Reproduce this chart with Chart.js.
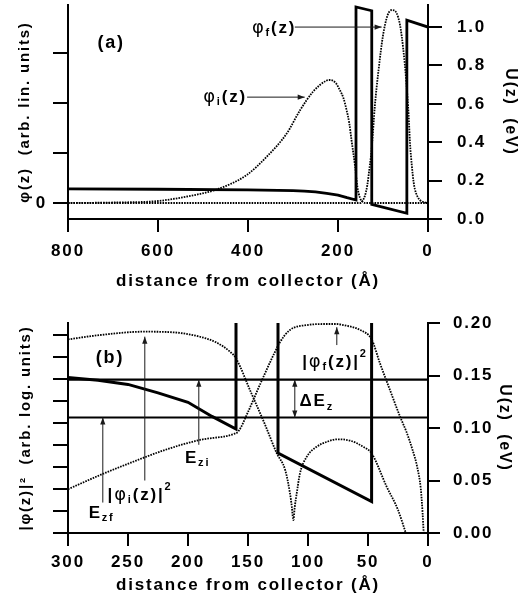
<!DOCTYPE html>
<html>
<head>
<meta charset="utf-8">
<script src="https://cdn.jsdelivr.net/npm/chart.js@4.4.1/dist/chart.umd.min.js"></script>
<style>
  body { margin: 0; background: #fff; }
  #wrapA { position: absolute; left: 0; top: 0; width: 525px; height: 292px; }
  #wrapB { position: absolute; left: 0; top: 292px; width: 525px; height: 304px; }
</style>
</head>
<body>
<div id="wrapA"><canvas id="canvasA"></canvas></div>
<div id="wrapB"><canvas id="canvasB"></canvas></div>
<script>
// ---- panel (a) : linear wavefunctions ----
const xTicksA = [800, 600, 400, 200, 0];
const phiTicksA = [0, 1, 2, 3];
const phiTickLabelsA = ["0", "", "", ""];
const uTicksA = [0, 0.2, 0.4, 0.6, 0.8, 1.0];

// conduction band profile U(z), eV (shared by both panels)
const zU = [800, 600, 400, 300, 275, 250, 225, 200, 180, 160, 160, 125, 125, 47, 47, 0];
const uU = [0.157, 0.155, 0.152, 0.148, 0.1455, 0.1415, 0.1335, 0.1245, 0.111, 0.099, 1.105, 1.085, 0.076, 0.030, 1.036, 1.0];

const zPhiI = [800, 700, 600, 536, 470, 403, 358, 314, 284, 255, 225, 218, 205, 196, 188, 181, 175, 170, 162, 157, 151, 145, 140, 0];
const phiI = [0, 0.01, 0.04, 0.13, 0.27, 0.56, 0.93, 1.39, 1.86, 2.23, 2.45, 2.46, 2.4, 2.26, 2.1, 1.86, 1.6, 1.26, 0.73, 0.33, 0.1, 0.02, 0, 0];

const zPhiF = [800, 150, 145, 140, 135, 130, 125, 118, 110, 100, 90, 80, 70, 62, 55, 48, 43, 40, 36, 32, 29, 24, 18, 10, 0];
const phiF = [0, 0, 0.05, 0.15, 0.35, 0.7, 1.1, 1.95, 2.65, 3.35, 3.75, 3.86, 3.8, 3.55, 3.08, 2.4, 1.75, 1.2, 0.75, 0.42, 0.27, 0.14, 0.06, 0.02, 0];

// ---- panel (b) : log |phi|^2 ----
const xTicksB = [300, 250, 200, 150, 100, 50, 0];
const logTicksB = [0, 1, 2, 3, 4, 5, 6, 7, 8, 9];
const uTicksB = [0, 0.05, 0.10, 0.15, 0.20];

const zSqI = [300, 273, 237, 212, 190, 176, 165, 160, 148, 136, 126, 119, 115, 113.5, 112.2, 111, 109.4, 106.7, 101, 92.8, 84, 76, 65, 54, 47, 34.4, 25, 18.5];
const sqI = [8.8, 9.0, 9.15, 9.12, 8.92, 8.65, 8.24, 7.94, 6.45, 4.95, 3.62, 2.86, 1.8, 1.2, 0.59, 1.2, 1.8, 2.71, 3.47, 3.92, 4.15, 4.26, 4.2, 3.92, 3.62, 2.1, 1.05, 0];

const zSqF = [300, 273, 245.6, 217.8, 190, 162, 158, 150, 140, 130, 126, 124, 115, 101, 84, 76, 70.6, 56.7, 47, 40, 31.7, 23.3, 18, 13, 9, 6, 4.5, 3.6];
const sqF = [1.99, 2.64, 3.24, 3.8, 4.23, 4.5, 4.62, 5.5, 6.75, 7.95, 8.4, 8.62, 9.23, 9.45, 9.5, 9.5, 9.45, 9.23, 8.8, 7.71, 6.5, 5.29, 4.6, 3.8, 3.0, 2.0, 0.9, 0];

const zE = [300, 0];
const eZi = [0.146, 0.146];
const eZf = [0.110, 0.110];

const pts = (xs, ys) => xs.map((x, i) => ({ x: x, y: ys[i] }));

const tickFont = { family: '"Liberation Sans", Arial, sans-serif', size: 17, weight: "bold" };
const B = 'bold 17px "Liberation Sans", Arial, sans-serif';
const B18 = 'bold 18px "Liberation Sans", Arial, sans-serif';
const G = '18px "DejaVu Sans", sans-serif';
const S = 'bold 11px "Liberation Sans", Arial, sans-serif';
const dotColor = "#000";

function drawRich(ctx, parts, x, y, align) {
  let w = 0;
  parts.forEach((p) => { ctx.font = p[1]; w += ctx.measureText(p[0]).width; });
  let cx = align === "left" ? x : x - w / 2;
  parts.forEach((p) => {
    ctx.font = p[1];
    ctx.fillText(p[0], cx, y + (p[2] || 0));
    cx += ctx.measureText(p[0]).width;
  });
}

function head(ctx, x, y, dir) {
  // dir: unit vector pointing where the tip faces
  const L = 7, W = 2.6;
  ctx.beginPath();
  ctx.moveTo(x, y);
  ctx.lineTo(x - dir[0] * L - dir[1] * W, y - dir[1] * L + dir[0] * W);
  ctx.lineTo(x - dir[0] * L + dir[1] * W, y - dir[1] * L - dir[0] * W);
  ctx.closePath();
  ctx.fill();
}

function drawArrow(ctx, x1, y1, x2, y2, both) {
  ctx.beginPath();
  ctx.moveTo(x1, y1);
  ctx.lineTo(x2, y2);
  ctx.stroke();
  const len = Math.hypot(x2 - x1, y2 - y1);
  const d = [(x2 - x1) / len, (y2 - y1) / len];
  head(ctx, x2, y2, d);
  if (both) head(ctx, x1, y1, [-d[0], -d[1]]);
}

const notesPlugin = {
  id: "notes",
  beforeDraw(chart) {
    chart.ctx.letterSpacing = "1.8px";
  },
  afterDatasetsDraw(chart, args, opts) {
    const ctx = chart.ctx;
    const xs = chart.scales.x;
    const ys = chart.scales.yU;
    ctx.save();
    ctx.letterSpacing = "1.8px";
    ctx.fillStyle = "#000";
    ctx.strokeStyle = "#1a1a1a";
    ctx.lineWidth = 1;
    ctx.textBaseline = "middle";
    (opts.labels || []).forEach((l) => {
      drawRich(ctx, l.parts, xs.getPixelForValue(l.z), ys.getPixelForValue(l.u), l.align);
    });
    ctx.fillStyle = "#1a1a1a";
    (opts.arrows || []).forEach((a) => {
      drawArrow(ctx, xs.getPixelForValue(a.z1), ys.getPixelForValue(a.u1),
        xs.getPixelForValue(a.z2), ys.getPixelForValue(a.u2), a.both);
    });
    ctx.restore();
  },
};

const axisGrid = (len) => ({ drawOnChartArea: false, color: "#000", lineWidth: 2, tickLength: len });
const axisBorder = { color: "#000", width: 2 };

// fixed box sizes, and no extra room reserved for overflowing end labels
const fixWidth = (w) => (s) => { s.width = w; s.paddingTop = 0; s.paddingBottom = 0; };
const fixHeight = (h) => (s) => { s.height = h; s.paddingLeft = 0; s.paddingRight = 0; };

function dotted(data, axis) {
  return {
    data: data, yAxisID: axis, borderColor: dotColor, borderWidth: 1.8,
    borderDash: [1.6, 1.1], cubicInterpolationMode: "monotone", pointRadius: 0,
  };
}
function solid(data, width) {
  return {
    data: data, yAxisID: "yU", borderColor: "#000", borderWidth: width,
    tension: 0, pointRadius: 0, borderJoinStyle: "miter",
  };
}

const chartA = new Chart(document.getElementById("canvasA"), {
  type: "line",
  data: {
    datasets: [
      dotted(pts(zPhiI, phiI), "yPhi"),
      dotted(pts(zPhiF, phiF), "yPhi"),
      solid(pts(zU, uU), 2.8),
    ],
  },
  options: {
    responsive: true,
    maintainAspectRatio: false,
    animation: false,
    layout: { padding: { top: 5, left: 0, right: 0, bottom: 0 } },
    plugins: {
      legend: { display: false },
      tooltip: { enabled: false },
      notes: {
        labels: [
          { z: 704, u: 0.917, parts: [["(a)", B18]] },
          { z: 342, u: 0.995, parts: [["φ", G], ["f", S, 5], ["(z)", B]] },
          { z: 451, u: 0.635, parts: [["φ", G], ["i", S, 5], ["(z)", B]] },
        ],
        arrows: [
          { z1: 296, u1: 1.0, z2: 103, u2: 1.0 },
          { z1: 402, u1: 0.635, z2: 274, u2: 0.635 },
        ],
      },
    },
    scales: {
      x: {
        type: "linear", reverse: true, min: 0, max: 800,
        afterBuildTicks: (s) => { s.ticks = xTicksA.map((v) => ({ value: v })); },
        afterFit: fixHeight(73),
        grid: axisGrid(13), border: axisBorder,
        ticks: { color: "#000", font: tickFont, padding: 9, maxRotation: 0, autoSkip: false },
        title: { display: true, text: "distance from collector (Å)", color: "#000", font: tickFont, padding: { top: 0, bottom: 0 } },
      },
      yPhi: {
        type: "linear", position: "left", min: -0.32, max: 3.96,
        afterBuildTicks: (s) => { s.ticks = phiTicksA.map((v) => ({ value: v })); },
        afterFit: fixWidth(68),
        grid: axisGrid(15), border: axisBorder,
        ticks: { color: "#000", font: tickFont, padding: 6, autoSkip: false, callback: (v, i) => phiTickLabelsA[i] },
        title: { display: true, text: "φ(z)  (arb. lin. units)", color: "#000", font: { family: tickFont.family, size: 15, weight: "bold" }, padding: { top: 16, bottom: 0 } },
      },
      yU: {
        type: "linear", position: "right", min: 0, max: 1.115,
        afterBuildTicks: (s) => { s.ticks = uTicksA.map((v) => ({ value: v })); },
        afterFit: fixWidth(97),
        grid: axisGrid(14), border: axisBorder,
        ticks: { color: "#000", font: tickFont, padding: 15, autoSkip: false, callback: (v) => v.toFixed(1) },
        title: { display: true, text: "U(z)  (eV)", color: "#000", font: { family: tickFont.family, size: 16, weight: "bold" }, padding: { top: 5, bottom: 0 } },
      },
    },
  },
  plugins: [notesPlugin],
});

const chartB = new Chart(document.getElementById("canvasB"), {
  type: "line",
  data: {
    datasets: [
      dotted(pts(zSqI, sqI), "yLog"),
      dotted(pts(zSqF, sqF), "yLog"),
      solid(pts(zE, eZi), 2.2),
      solid(pts(zE, eZf), 2.2),
      solid(pts(zU, uU), 3),
    ],
  },
  options: {
    responsive: true,
    maintainAspectRatio: false,
    animation: false,
    layout: { padding: { top: 31, left: 0, right: 0, bottom: 0 } },
    plugins: {
      legend: { display: false },
      tooltip: { enabled: false },
      notes: {
        labels: [
          { z: 265, u: 0.167, parts: [["(b)", B18]] },
          { z: 77.5, u: 0.163, parts: [["|", B], ["φ", G], ["f", S, 5], ["(z)", B], ["|", B], ["2", S, -8]] },
          { z: 107, u: 0.125, align: "left", parts: [["ΔE", B], ["z", S, 5]] },
          { z: 192, u: 0.071, parts: [["E", B], ["zi", S, 5]] },
          { z: 240, u: 0.036, parts: [["|", B], ["φ", G], ["i", S, 5], ["(z)", B], ["|", B], ["2", S, -8]] },
          { z: 272, u: 0.019, parts: [["E", B], ["zf", S, 5]] },
        ],
        arrows: [
          { z1: 76, u1: 0.179, z2: 76, u2: 0.196 },
          { z1: 111, u1: 0.110, z2: 111, u2: 0.146, both: true },
          { z1: 191, u1: 0.084, z2: 191, u2: 0.146 },
          { z1: 236, u1: 0.050, z2: 236, u2: 0.187 },
          { z1: 271, u1: 0.029, z2: 271, u2: 0.110 },
        ],
      },
    },
    scales: {
      x: {
        type: "linear", reverse: true, min: 0, max: 300,
        afterBuildTicks: (s) => { s.ticks = xTicksB.map((v) => ({ value: v })); },
        afterFit: fixHeight(63),
        grid: axisGrid(13), border: axisBorder,
        ticks: { color: "#000", font: tickFont, padding: 6, maxRotation: 0, autoSkip: false },
        title: { display: true, text: "distance from collector (Å)", color: "#000", font: tickFont, padding: { top: 0, bottom: 0 } },
      },
      yLog: {
        type: "linear", position: "left", min: 0, max: 9.545,
        afterBuildTicks: (s) => { s.ticks = logTicksB.map((v) => ({ value: v })); },
        afterFit: fixWidth(68),
        grid: axisGrid(15), border: axisBorder,
        ticks: { color: "#000", font: tickFont, padding: 6, autoSkip: false, callback: () => "" },
        title: { display: true, text: "|φ(z)|²  (arb. log. units)", color: "#000", font: { family: tickFont.family, size: 15, weight: "bold" }, padding: { top: 17, bottom: 0 } },
      },
      yU: {
        type: "linear", position: "right", min: 0, max: 0.2,
        afterBuildTicks: (s) => { s.ticks = uTicksB.map((v) => ({ value: v })); },
        afterFit: fixWidth(97),
        grid: axisGrid(12), border: axisBorder,
        ticks: { color: "#000", font: tickFont, padding: 13, autoSkip: false, callback: (v) => v.toFixed(2) },
        title: { display: true, text: "U(z)  (eV)", color: "#000", font: { family: tickFont.family, size: 16, weight: "bold" }, padding: { top: 11, bottom: 0 } },
      },
    },
  },
  plugins: [notesPlugin],
});
</script>
</body>
</html>
